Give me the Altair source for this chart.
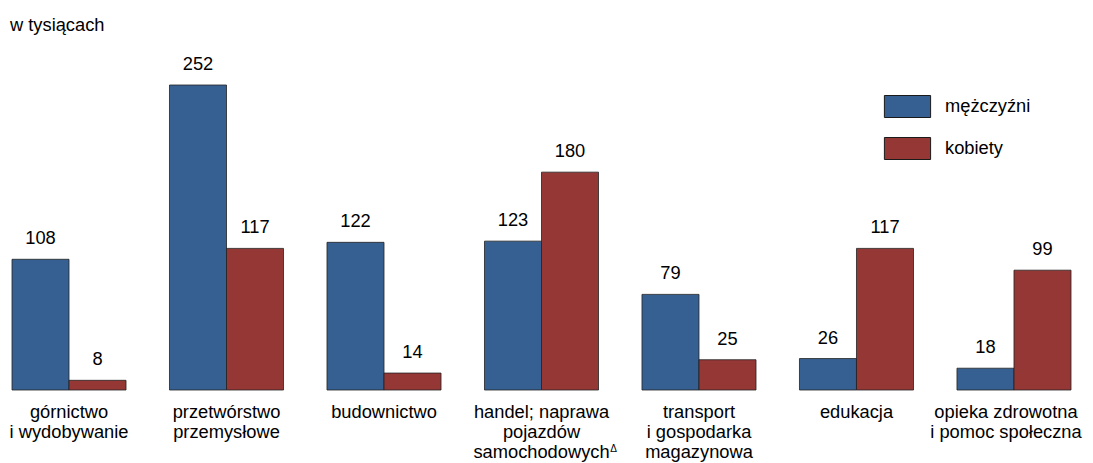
import altair as alt
import pandas as pd

categories = [
    "górnictwo i wydobywanie",
    "przetwórstwo przemysłowe",
    "budownictwo",
    "handel; naprawa pojazdów samochodowych",
    "transport i gospodarka magazynowa",
    "edukacja",
    "opieka zdrowotna i pomoc społeczna",
]
labels = [
    "górnictwo|i wydobywanie",
    "przetwórstwo|przemysłowe",
    "budownictwo",
    "handel; naprawa|pojazdów|samochodowych",
    "transport|i gospodarka|magazynowa",
    "edukacja",
    "opieka zdrowotna|i pomoc społeczna",
]
men = [108, 252, 122, 123, 79, 26, 18]
women = [8, 117, 14, 180, 25, 117, 99]
series = ["mężczyźni", "kobiety"]
colors = ["#376092", "#953735"]
unit_title = "w tysiącach"

FONT = "Arial, Liberation Sans, sans-serif"
FS = 18.3
H = 330
W = 1059
ymax = H / 1.2103

rows = []
for c, m, w in zip(categories, men, women):
    rows.append({"category": c, "series": series[0], "value": m})
    rows.append({"category": c, "series": series[1], "value": w})
df = pd.DataFrame(rows)
lab_df = pd.DataFrame({"category": categories, "label": labels})
delta_df = pd.DataFrame({"category": [categories[3]], "mark": ["Δ"]})
title_df = pd.DataFrame({"t": [unit_title]})

xenc = alt.X("category:N", sort=categories, axis=None,
             scale=alt.Scale(paddingInner=0.276, paddingOuter=0))
xoff = alt.XOffset("series:N", sort=series, scale=alt.Scale(paddingInner=0, paddingOuter=0))
yenc = alt.Y("value:Q", axis=None, scale=alt.Scale(domain=[0, ymax], nice=False, zero=True))

bars = alt.Chart(df).mark_bar(stroke="#222222", strokeWidth=0.8).encode(
    x=xenc,
    xOffset=xoff,
    y=yenc,
    color=alt.Color(
        "series:N",
        sort=series,
        scale=alt.Scale(domain=series, range=colors),
        legend=alt.Legend(
            title=None,
            orient="none",
            legendX=884,
            legendY=35,
            symbolType="M-2.1,-1H2.1V1H-2.1Z",
            symbolSize=484,
            symbolStrokeColor="#1a1a1a",
            symbolStrokeWidth=1,
            symbolOpacity=1,
            labelOffset=26,
            rowPadding=15,
            labelFont=FONT,
            labelFontSize=FS,
            labelColor="#000000",
        ),
    ),
)

values = alt.Chart(df).mark_text(
    font=FONT, fontSize=FS, baseline="alphabetic", dy=-15, color="#000000"
).encode(
    x=xenc,
    xOffset=xoff,
    y=yenc,
    text=alt.Text("value:Q"),
)

last_cat = categories[-1]

cat_labels = alt.Chart(lab_df).mark_text(
    font=FONT, fontSize=FS, baseline="alphabetic", lineBreak="|", lineHeight=20,
    color="#000000",
).encode(
    x=xenc,
    y=alt.value(H + 28),
    text="label:N",
).transform_filter(alt.datum.category != last_cat)

cat_labels_last = alt.Chart(lab_df).mark_text(
    font=FONT, fontSize=FS, baseline="alphabetic", lineBreak="|", lineHeight=20,
    color="#000000", dx=-8,
).encode(
    x=xenc,
    y=alt.value(H + 28),
    text="label:N",
).transform_filter(alt.datum.category == last_cat)

delta = alt.Chart(delta_df).mark_text(
    font=FONT, fontSize=10, baseline="alphabetic", dx=72, color="#000000"
).encode(
    x=xenc,
    y=alt.value(H + 62),
    text="mark:N",
)

title = alt.Chart(title_df).mark_text(
    font=FONT, fontSize=FS, baseline="alphabetic", align="left", color="#000000"
).encode(
    x=alt.value(-2),
    y=alt.value(-29),
    text="t:N",
)

chart = alt.layer(bars, values, cat_labels, cat_labels_last, delta, title).properties(
    width=W,
    height=H,
    autosize=alt.AutoSizeParams(type="none"),
    padding={"left": 4, "top": 52, "right": 14, "bottom": 73},
).configure_view(strokeWidth=0)

chart.save("out.html", embed_options={"renderer": "svg", "actions": False})
